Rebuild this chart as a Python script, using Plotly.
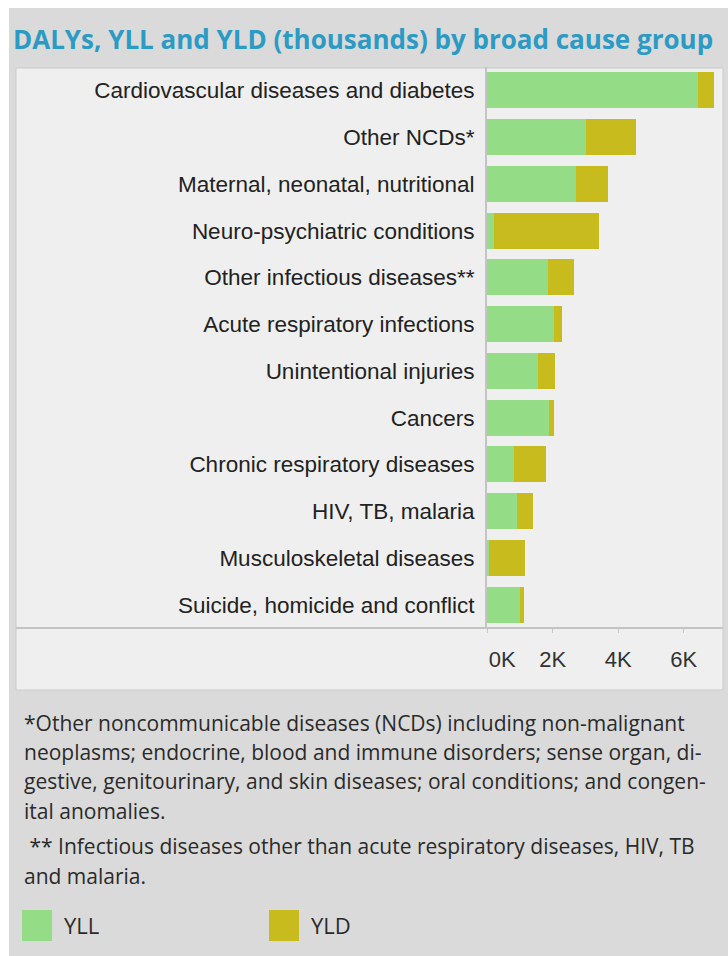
import plotly.graph_objects as go

# Broad cause groups, top to bottom
causes = [
    "Cardiovascular diseases and diabetes",
    "Other NCDs*",
    "Maternal, neonatal, nutritional",
    "Neuro-psychiatric conditions",
    "Other infectious diseases**",
    "Acute respiratory infections",
    "Unintentional injuries",
    "Cancers",
    "Chronic respiratory diseases",
    "HIV, TB, malaria",
    "Musculoskeletal diseases",
    "Suicide, homicide and conflict",
]

# Years of life lost and years lived with disability (thousands)
yll = [6430, 3020, 2710, 210, 1860, 2040, 1560, 1890, 820, 910, 60, 1010]
yld = [490, 1520, 980, 3200, 790, 250, 510, 150, 980, 490, 1100, 120]

tick_values = [0, 2000, 4000, 6000]
tick_labels = ["\u00a0\u00a0\u00a0\u00a0\u00a00K", "2K", "4K", "6K"]

footnote_lines = [
    "*Other noncommunicable diseases (NCDs) including non-malignant",
    "neoplasms; endocrine, blood and immune disorders; sense organ, di-",
    "gestive, genitourinary, and skin diseases; oral conditions; and congen-",
    "ital anomalies.",
    "\u00a0** Infectious diseases other than acute respiratory diseases, HIV, TB",
    "and malaria.",
]
footnote_y = [723, 752, 781, 811, 846, 876]

legend_names = ["YLL", "YLD"]

GREEN = "#95dc87"
OLIVE = "#c8bb1e"
OUTER_BG = "#dadada"
PANEL_BG = "#efefef"
EDGE = "#cbcbcb"

W, H = 728, 956
L, R, T, B = 487, 5, 67, 328
PW, PH = W - L - R, H - T - B


def px_x(px):
    return (px - L) / PW


def px_y(py):
    return (H - B - py) / PH


fig = go.Figure()
fig.add_trace(go.Bar(y=causes, x=yll, orientation="h", name=legend_names[0],
                     marker=dict(color=GREEN, line=dict(width=0)), showlegend=False))
fig.add_trace(go.Bar(y=causes, x=yld, orientation="h", name=legend_names[1],
                     marker=dict(color=OLIVE, line=dict(width=0)), showlegend=False))

shapes = [
    # outer grey card
    dict(type="rect", xref="paper", yref="paper", x0=px_x(9), x1=px_x(728),
         y0=px_y(956), y1=px_y(8), fillcolor=OUTER_BG, line=dict(width=0), layer="below"),
    # light chart panel
    dict(type="rect", xref="paper", yref="paper", x0=px_x(16), x1=px_x(723),
         y0=px_y(690), y1=px_y(68), fillcolor=PANEL_BG,
         line=dict(color=EDGE, width=1), layer="below"),
    # divider between bars and axis labels
    dict(type="line", xref="paper", yref="paper", x0=px_x(16), x1=px_x(723),
         y0=0, y1=0, line=dict(color="#c4c4c4", width=2), layer="above"),
]

# legend swatches
for name, color, x0 in zip(legend_names, [GREEN, OLIVE], [22, 269]):
    shapes.append(dict(type="rect", xref="paper", yref="paper",
                       x0=px_x(x0), x1=px_x(x0 + 30), y0=px_y(941), y1=px_y(910),
                       fillcolor=color, line=dict(width=0)))

annotations = []
for txt, yy in zip(footnote_lines, footnote_y):
    annotations.append(dict(text=txt, xref="paper", yref="paper", x=px_x(22), y=px_y(yy),
                            xanchor="left", yanchor="middle", showarrow=False,
                            font=dict(family="Open Sans", size=21, color="#2a2a2a")))
for name, x0 in zip(legend_names, [62, 309]):
    annotations.append(dict(text=name, xref="paper", yref="paper", x=px_x(x0), y=px_y(925),
                            xanchor="left", yanchor="middle", showarrow=False,
                            font=dict(family="Open Sans", size=22, color="#2a2a2a")))

fig.update_layout(
    width=W, height=H,
    margin=dict(l=L, r=R, t=T, b=B, pad=0),
    paper_bgcolor="white",
    plot_bgcolor=PANEL_BG,
    barmode="stack",
    bargap=0.23,
    title=dict(text="<b>DALYs, YLL and YLD (thousands) by broad cause group</b>",
               x=13 / W, xanchor="left", xref="container",
               y=1 - 40 / H, yanchor="middle", yref="container",
               font=dict(family="Open Sans", size=26, color="#2b9ac4")),
    xaxis=dict(range=[0, PW / 32.8 * 1000], tickvals=tick_values, ticktext=tick_labels,
               showgrid=False, zeroline=False, showline=False,
               ticks="outside", ticklen=4, tickcolor="#c8c8c8", tickwidth=1,
               ticklabelstandoff=8,
               tickfont=dict(family="Liberation Sans", size=22, color="#333333"),
               fixedrange=True),
    yaxis=dict(autorange="reversed", showgrid=False, zeroline=False,
               showline=True, linecolor="#c4c4c4", linewidth=2,
               ticks="", ticklabelstandoff=6,
               tickfont=dict(family="Liberation Sans", size=22.5, color="#222222"),
               fixedrange=True),
    shapes=shapes,
    annotations=annotations,
    showlegend=False,
)

fig.write_html("out.html")
